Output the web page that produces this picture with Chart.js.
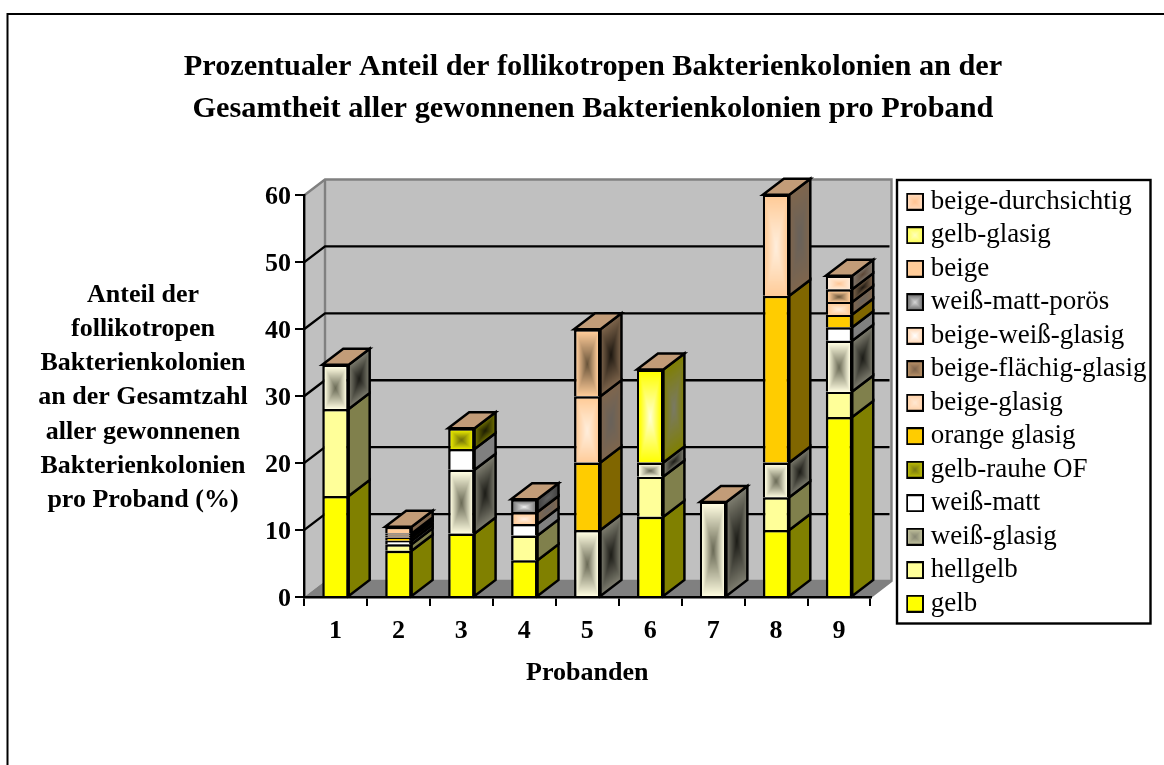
<!DOCTYPE html>
<html lang="de">
<head>
<meta charset="utf-8">
<title>Bakterienkolonien</title>
<script src="https://cdn.jsdelivr.net/npm/chart.js@4"></script>
<style>html,body{margin:0;padding:0;background:#fff}canvas{display:block}</style>
</head>
<body>
<canvas id="c" width="1164" height="765"></canvas>
<script>
const probanden = ['1','2','3','4','5','6','7','8','9'];
const gelb              = [15.1, 6.9, 9.5, 5.5, null, 12.0, null, 10.0, 26.9];
const hellgelb          = [13, 1.0, null, 3.7, null, 6.0, null, 4.9, 3.8];
const weissGlasig       = [6.6, null, 9.5, null, 10.0, 2.1, 14.2, 5.2, 7.6];
const weissMatt         = [null, 0.5, 3.1, 1.7, null, null, null, null, 2.0];
const gelbRauheOF       = [null, null, 3.1, null, null, null, null, null, null];
const orangeGlasig      = [null, 0.5, null, null, 10.1, null, null, 24.9, 1.9];
const beigeGlasig       = [null, 0.3, null, null, 9.9, null, null, 15.1, 1.9];
const beigeFlaechig     = [null, 0.3, null, null, 10.0, null, null, null, 1.9];
const beigeWeissGlasig  = [null, null, null, 1.8, null, null, null, null, null];
const weissMattPoroes   = [null, null, null, 1.9, null, null, null, null, null];
const beige             = [null, 1.0, null, null, null, null, null, null, null];
const gelbGlasig        = [null, null, null, null, null, 13.9, null, null, null];
const beigeDurchsichtig = [null, null, null, null, null, null, null, null, 2.0];

const seriesNames = ['gelb','hellgelb','weiß-glasig','weiß-matt','gelb-rauhe OF','orange glasig','beige-glasig','beige-flächig-glasig','beige-weiß-glasig','weiß-matt-porös','beige','gelb-glasig','beige-durchsichtig'];
const seriesValues = [gelb,hellgelb,weissGlasig,weissMatt,gelbRauheOF,orangeGlasig,beigeGlasig,beigeFlaechig,beigeWeissGlasig,weissMattPoroes,beige,gelbGlasig,beigeDurchsichtig];

const titleLines = ['Prozentualer Anteil der follikotropen Bakterienkolonien an der','Gesamtheit aller gewonnenen Bakterienkolonien pro Proband'];
const yTitleLines = ['Anteil der','follikotropen','Bakterienkolonien','an der Gesamtzahl','aller gewonnenen','Bakterienkolonien','pro Proband (%)'];
const xTitle = 'Probanden';

/* edge colour, centre colour, curve, side-centre factor, legend edge, legend centre */
const faceStyles = [
 {e:[255,255,0]},
 {e:[255,255,153]},
 {e:[255,253,225],c:[105,105,85],p:1,sd:.5,le:[205,205,165],lc:[135,135,115]},
 {e:[255,255,255]},
 {e:[232,232,0],c:[110,110,10],p:1,sd:.5,le:[205,205,0],lc:[120,120,20]},
 {e:[255,204,0]},
 {e:[255,204,153],c:[255,238,220],p:1.1,sd:.82,le:[255,205,160],lc:[255,232,210]},
 {e:[255,204,153],c:[100,80,55],p:.9,sd:.5,le:[200,155,110],lc:[125,100,75]},
 {e:[255,204,153],c:[255,240,228],p:1,sd:.82,le:[255,205,160],lc:[255,255,255]},
 {e:[130,130,130],c:[245,245,245],p:.9,sd:.8,le:[90,90,90],lc:[215,215,215]},
 {e:[255,204,153]},
 {e:[255,255,0],c:[255,255,215],p:1,sd:.95,le:[255,255,60],lc:[255,255,190]},
 {e:[255,235,215],c:[255,195,145],p:.8,sd:.7,le:[255,225,200],lc:[255,195,145]}
];
const rgb = a => `rgb(${a[0]},${a[1]},${a[2]})`;
const DEPTH_X = 21, DEPTH_Y = 16, TOP_COLOR = '#c29c78', SERIF = "'Liberation Serif'";

function gradientCanvas(w, h, edge, center, pow, mult) {
  w = Math.max(1, Math.round(w)); h = Math.max(1, Math.round(h));
  const cv = document.createElement('canvas'); cv.width = w; cv.height = h;
  const cx = cv.getContext('2d'), img = cx.createImageData(w, h);
  const c = center || edge;
  for (let y = 0; y < h; y++) for (let x = 0; x < w; x++) {
    const t = Math.pow(Math.max(Math.abs((x + .5) / w * 2 - 1), Math.abs((y + .5) / h * 2 - 1)), pow || 1);
    const i = (y * w + x) * 4;
    for (let k = 0; k < 3; k++) img.data[i + k] = (c[k] + (edge[k] - c[k]) * t) * mult;
    img.data[i + 3] = 255;
  }
  cx.putImageData(img, 0, 0);
  return cv;
}
function swatch(s) {
  const cv = gradientCanvas(18, 18, s.le || s.e, s.lc || s.c, 1, 1);
  const cx = cv.getContext('2d');
  cx.strokeStyle = '#000'; cx.lineWidth = 2; cx.strokeRect(1, 1, 16, 16);
  return cv;
}
const segments = chart => {
  const out = [];
  chart.data.datasets.forEach((d, di) => {
    chart.getDatasetMeta(di).data.forEach((el, i) => {
      if (d.data[i] == null) return;
      const p = el.getProps(['x', 'y', 'base', 'width'], true);
      out.push({di, i, l: p.x - p.width / 2, r: p.x + p.width / 2, t: Math.min(p.y, p.base), b: Math.max(p.y, p.base)});
    });
  });
  return out;
};
const poly = (ctx, pts) => { ctx.beginPath(); pts.forEach((p, i) => i ? ctx.lineTo(p[0], p[1]) : ctx.moveTo(p[0], p[1])); ctx.closePath(); };

const chart3d = {
  id: 'chart3d',
  afterInit(chart) {
    const l = chart.legend, fit = l.fit;
    l.fit = function () { this.maxHeight = 700; fit.call(this); this.width = 293.5; };
  },
  afterLayout(chart) {
    const l = chart.legend;
    l.left = 906.3; l.right = 1150; l.top = 181.7; l.bottom = 700;
    chart.titleBlock.left = 22; chart.titleBlock.right = 1164;
  },
  beforeDraw(chart) {
    const ctx = chart.ctx, a = chart.chartArea, y = chart.scales.y;
    ctx.save();
    ctx.fillStyle = '#fff'; ctx.fillRect(0, 0, 1164, 765);
    ctx.strokeStyle = '#000'; ctx.lineWidth = 2;
    ctx.beginPath(); ctx.moveTo(7.5, 765); ctx.lineTo(7.5, 14); ctx.lineTo(1164, 14); ctx.stroke();
    const dx = DEPTH_X, dy = DEPTH_Y;
    // walls and floor
    ctx.fillStyle = '#c0c0c0';
    ctx.fillRect(a.left + dx, a.top - dy, a.right - a.left, a.bottom - a.top);
    poly(ctx, [[a.left, a.bottom], [a.left + dx, a.bottom - dy], [a.left + dx, a.top - dy], [a.left, a.top]]); ctx.fill();
    ctx.fillStyle = '#808080';
    poly(ctx, [[a.left, a.bottom], [a.right, a.bottom], [a.right + dx, a.bottom - dy], [a.left + dx, a.bottom - dy]]); ctx.fill();
    ctx.strokeStyle = '#808080'; ctx.lineWidth = 2.4;
    ctx.beginPath();
    ctx.moveTo(a.left, a.top); ctx.lineTo(a.left + dx, a.top - dy); ctx.lineTo(a.right + dx, a.top - dy);
    ctx.lineTo(a.right + dx, a.bottom - dy); ctx.lineTo(a.right, a.bottom);
    ctx.moveTo(a.left + dx, a.top - dy); ctx.lineTo(a.left + dx, a.bottom - dy); ctx.lineTo(a.right + dx - 1, a.bottom - dy);
    ctx.stroke();
    // gridlines on the back and left walls
    ctx.strokeStyle = '#000';
    y.ticks.forEach(t => {
      if (t.value === 0 || t.value === 60) return;
      const py = y.getPixelForValue(t.value);
      ctx.beginPath(); ctx.moveTo(a.left, py); ctx.lineTo(a.left + dx, py - dy); ctx.lineTo(a.right + dx - 2, py - dy); ctx.stroke();
    });
    ctx.restore();
  },
  beforeDatasetsDraw(chart) {
    const ctx = chart.ctx, dx = DEPTH_X, dy = DEPTH_Y, segs = segments(chart);
    ctx.save();
    ctx.lineWidth = 2.5; ctx.strokeStyle = '#000'; ctx.lineJoin = 'miter';
    segs.forEach(s => {
      const st = faceStyles[s.di], h = s.b - s.t;
      const sc = st.c ? st.c.map(v => v * (st.sd || 1)) : null;
      ctx.save();
      ctx.transform(1, -dy / dx, 0, 1, s.r, s.t);
      ctx.drawImage(gradientCanvas(dx, h, st.e, sc, st.p, .5), 0, 0, dx, h);
      ctx.restore();
      poly(ctx, [[s.r, s.b], [s.r + dx, s.b - dy], [s.r + dx, s.t - dy], [s.r, s.t]]); ctx.stroke();
    });
    // top face of each stack
    const tops = {};
    segs.forEach(s => { if (!tops[s.i] || s.t < tops[s.i].t) tops[s.i] = s; });
    Object.values(tops).forEach(s => {
      poly(ctx, [[s.l, s.t], [s.r, s.t], [s.r + dx, s.t - dy], [s.l + dx, s.t - dy]]);
      ctx.fillStyle = TOP_COLOR; ctx.fill(); ctx.stroke();
    });
    ctx.restore();
  },
  afterDatasetsDraw(chart) {
    const ctx = chart.ctx;
    segments(chart).forEach(s => {
      const st = faceStyles[s.di], h = s.b - s.t - 2.5, w = s.r - s.l - 5;
      if (!st.c || h < 1) return;
      ctx.drawImage(gradientCanvas(w, h, st.e, st.c, st.p, 1), s.l + 2.5, s.t + 2.5, w, h);
    });
  },
  afterDraw(chart) {
    const ctx = chart.ctx;
    ctx.save();
    ctx.strokeStyle = '#000'; ctx.lineWidth = 2.4;
    ctx.strokeRect(897, 180, 253.5, 443.5);
    ctx.fillStyle = '#000'; ctx.font = `bold 26px ${SERIF}`; ctx.textAlign = 'center'; ctx.textBaseline = 'middle';
    yTitleLines.forEach((t, i) => ctx.fillText(t, 143, 295 + i * 34.2));
    ctx.restore();
  }
};

new Chart(document.getElementById('c'), {
  type: 'bar',
  data: {
    labels: probanden,
    datasets: seriesNames.map((n, i) => ({
      label: n,
      data: seriesValues[i],
      backgroundColor: rgb(faceStyles[i].e),
      borderColor: '#000',
      borderWidth: {top: 2.5, left: 2.5, right: 2.5, bottom: 0},
      borderSkipped: false,
      barPercentage: 0.42,
      categoryPercentage: 1,
      clip: false
    }))
  },
  plugins: [chart3d],
  options: {
    responsive: false,
    animation: false,
    layout: {padding: {left: 0, right: 0, top: 0, bottom: 76}},
    scales: {
      x: {
        stacked: true,
        ticks: {color: '#000', font: {family: SERIF, weight: 'bold', size: 26}, padding: 10, maxRotation: 0, autoSkip: false},
        grid: {display: true, drawOnChartArea: false, color: '#000', lineWidth: 2, tickLength: 9},
        border: {color: '#000', width: 2.4},
        title: {display: true, text: xTitle, color: '#000', font: {family: SERIF, weight: 'bold', size: 26}, padding: 0},
        afterFit(s) { s.height = 92; }
      },
      y: {
        stacked: true, min: 0, max: 60,
        ticks: {stepSize: 10, color: '#000', font: {family: SERIF, weight: 'bold', size: 26}, padding: 4, labelOffset: 2},
        grid: {display: true, drawOnChartArea: false, color: '#000', lineWidth: 2, tickLength: 9},
        border: {color: '#000', width: 2.4},
        afterFit(s) { s.width = 304; }
      }
    },
    plugins: {
      tooltip: {enabled: false},
      title: {
        display: true, text: titleLines, color: '#000',
        font: {family: SERIF, weight: 'bold', size: 30.3, lineHeight: 1.386},
        padding: {top: 46, bottom: 65.5}
      },
      legend: {
        position: 'right', align: 'start', reverse: true,
        labels: {
          color: '#000', font: {family: SERIF, size: 27}, usePointStyle: true, pointStyleWidth: 4.4, padding: 6.5,
          generateLabels(ch) {
            return Chart.defaults.plugins.legend.labels.generateLabels(ch).map(it => {
              it.pointStyle = swatch(faceStyles[it.datasetIndex]);
              it.lineWidth = 0;
              return it;
            });
          }
        }
      }
    }
  }
});
</script>
</body>
</html>
